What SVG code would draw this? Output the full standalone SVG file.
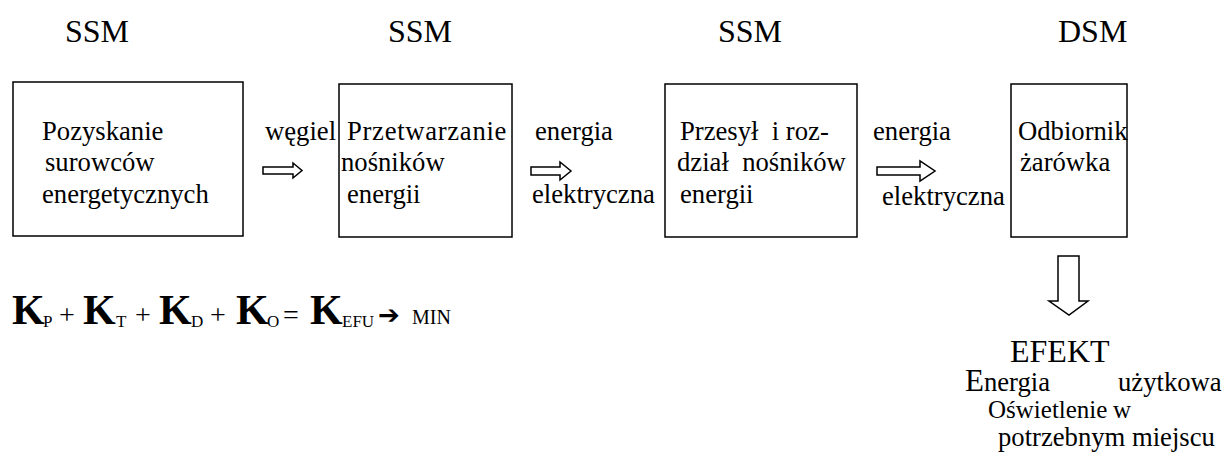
<svg xmlns="http://www.w3.org/2000/svg" width="1228" height="466" viewBox="0 0 1228 466">
<style>
text{font-family:"Liberation Serif","Times New Roman",serif;fill:#000}
.t{font-size:26.67px}
.h{font-size:32px}
.box{fill:#fff;stroke:#000;stroke-width:1.5}
.arr{fill:#fff;stroke:#000;stroke-width:1.5;stroke-linejoin:miter}
.k{font-size:42px;font-weight:bold}
.s{font-size:17px}
.op{font-size:28px}
</style>
<rect width="1228" height="466" fill="#fff"/>
<g id="headers">
<text class="h" x="65" y="42">SSM</text>
<text class="h" x="388" y="42">SSM</text>
<text class="h" x="718" y="42">SSM</text>
<text class="h" x="1058" y="42">DSM</text>
</g>
<g id="node-pozyskanie">
<rect class="box" x="13" y="82" width="230" height="154"/>
<text class="t" x="42" y="140">Pozyskanie</text>
<text class="t" x="45" y="171">surowców</text>
<text class="t" x="42" y="203">energetycznych</text>
</g>
<g id="node-przetwarzanie">
<rect class="box" x="339" y="84" width="173" height="153"/>
<text class="t" x="347" y="140" style="letter-spacing:0.7px">Przetwarzanie</text>
<text class="t" x="341" y="171">nośników</text>
<text class="t" x="347" y="203">energii</text>
</g>
<g id="node-przesyl">
<rect class="box" x="665" y="84" width="192" height="153"/>
<text class="t" x="680" y="140" xml:space="preserve">Przesył  i roz-</text>
<text class="t" x="677" y="171" xml:space="preserve">dział  nośników</text>
<text class="t" x="680" y="203">energii</text>
</g>
<g id="node-odbiornik">
<rect class="box" x="1011" y="84" width="116" height="153"/>
<text class="t" x="1018" y="140">Odbiornik</text>
<text class="t" x="1020" y="171">żarówka</text>
</g>
<g id="connectors">
<path class="arr" d="M263,167 H293 V163 L302,170.5 L293,178 V174 H263 Z"/>
<path class="arr" d="M531,167 H560 V162 L571,171 L560,180 V175 H531 Z"/>
<path class="arr" d="M877,167 H920 V161 L935,171 L920,181 V175 H877 Z"/>
<path class="arr" d="M1058,256 H1079 V301 H1088 L1069,315 L1049,301 H1058 Z"/>
<text class="t" x="265" y="140">węgiel</text>
<text class="t" x="535" y="140">energia</text>
<text class="t" x="532" y="203">elektryczna</text>
<text class="t" x="873" y="140">energia</text>
<text class="t" x="882" y="205">elektryczna</text>
</g>
<g id="formula">
<text class="k" x="12" y="324">K</text>
<text class="s" x="43" y="327">P</text>
<text class="op" x="59" y="324">+</text>
<text class="k" x="83" y="324">K</text>
<text class="s" x="116" y="327">T</text>
<text class="op" x="135" y="324">+</text>
<text class="k" x="159" y="324">K</text>
<text class="s" x="191" y="327">D</text>
<text class="op" x="210" y="324">+</text>
<text class="k" x="236" y="324">K</text>
<text class="s" x="267" y="327">O</text>
<text class="op" x="283" y="324">=</text>
<text class="k" x="310" y="324">K</text>
<text class="s" x="342" y="327">EFU</text>
<text x="378" y="324" style="font-family:'DejaVu Sans',sans-serif;font-size:26px;font-weight:bold">➔</text>
<text class="t" x="412" y="324" style="font-size:20px">MIN</text>
</g>
<g id="node-efekt">
<text class="t" x="1010" y="362" style="font-size:32px">EFEKT</text>
<text class="t" x="965" y="391"><tspan style="font-size:31px">E</tspan>nergia</text>
<text class="t" x="1118" y="391">użytkowa</text>
<text class="t" x="988" y="418" style="font-size:25px">Oświetlenie</text>
<text class="t" x="1113" y="418" style="font-size:25px">w</text>
<text class="t" x="998" y="446">potrzebnym miejscu</text>
</g>
</svg>
